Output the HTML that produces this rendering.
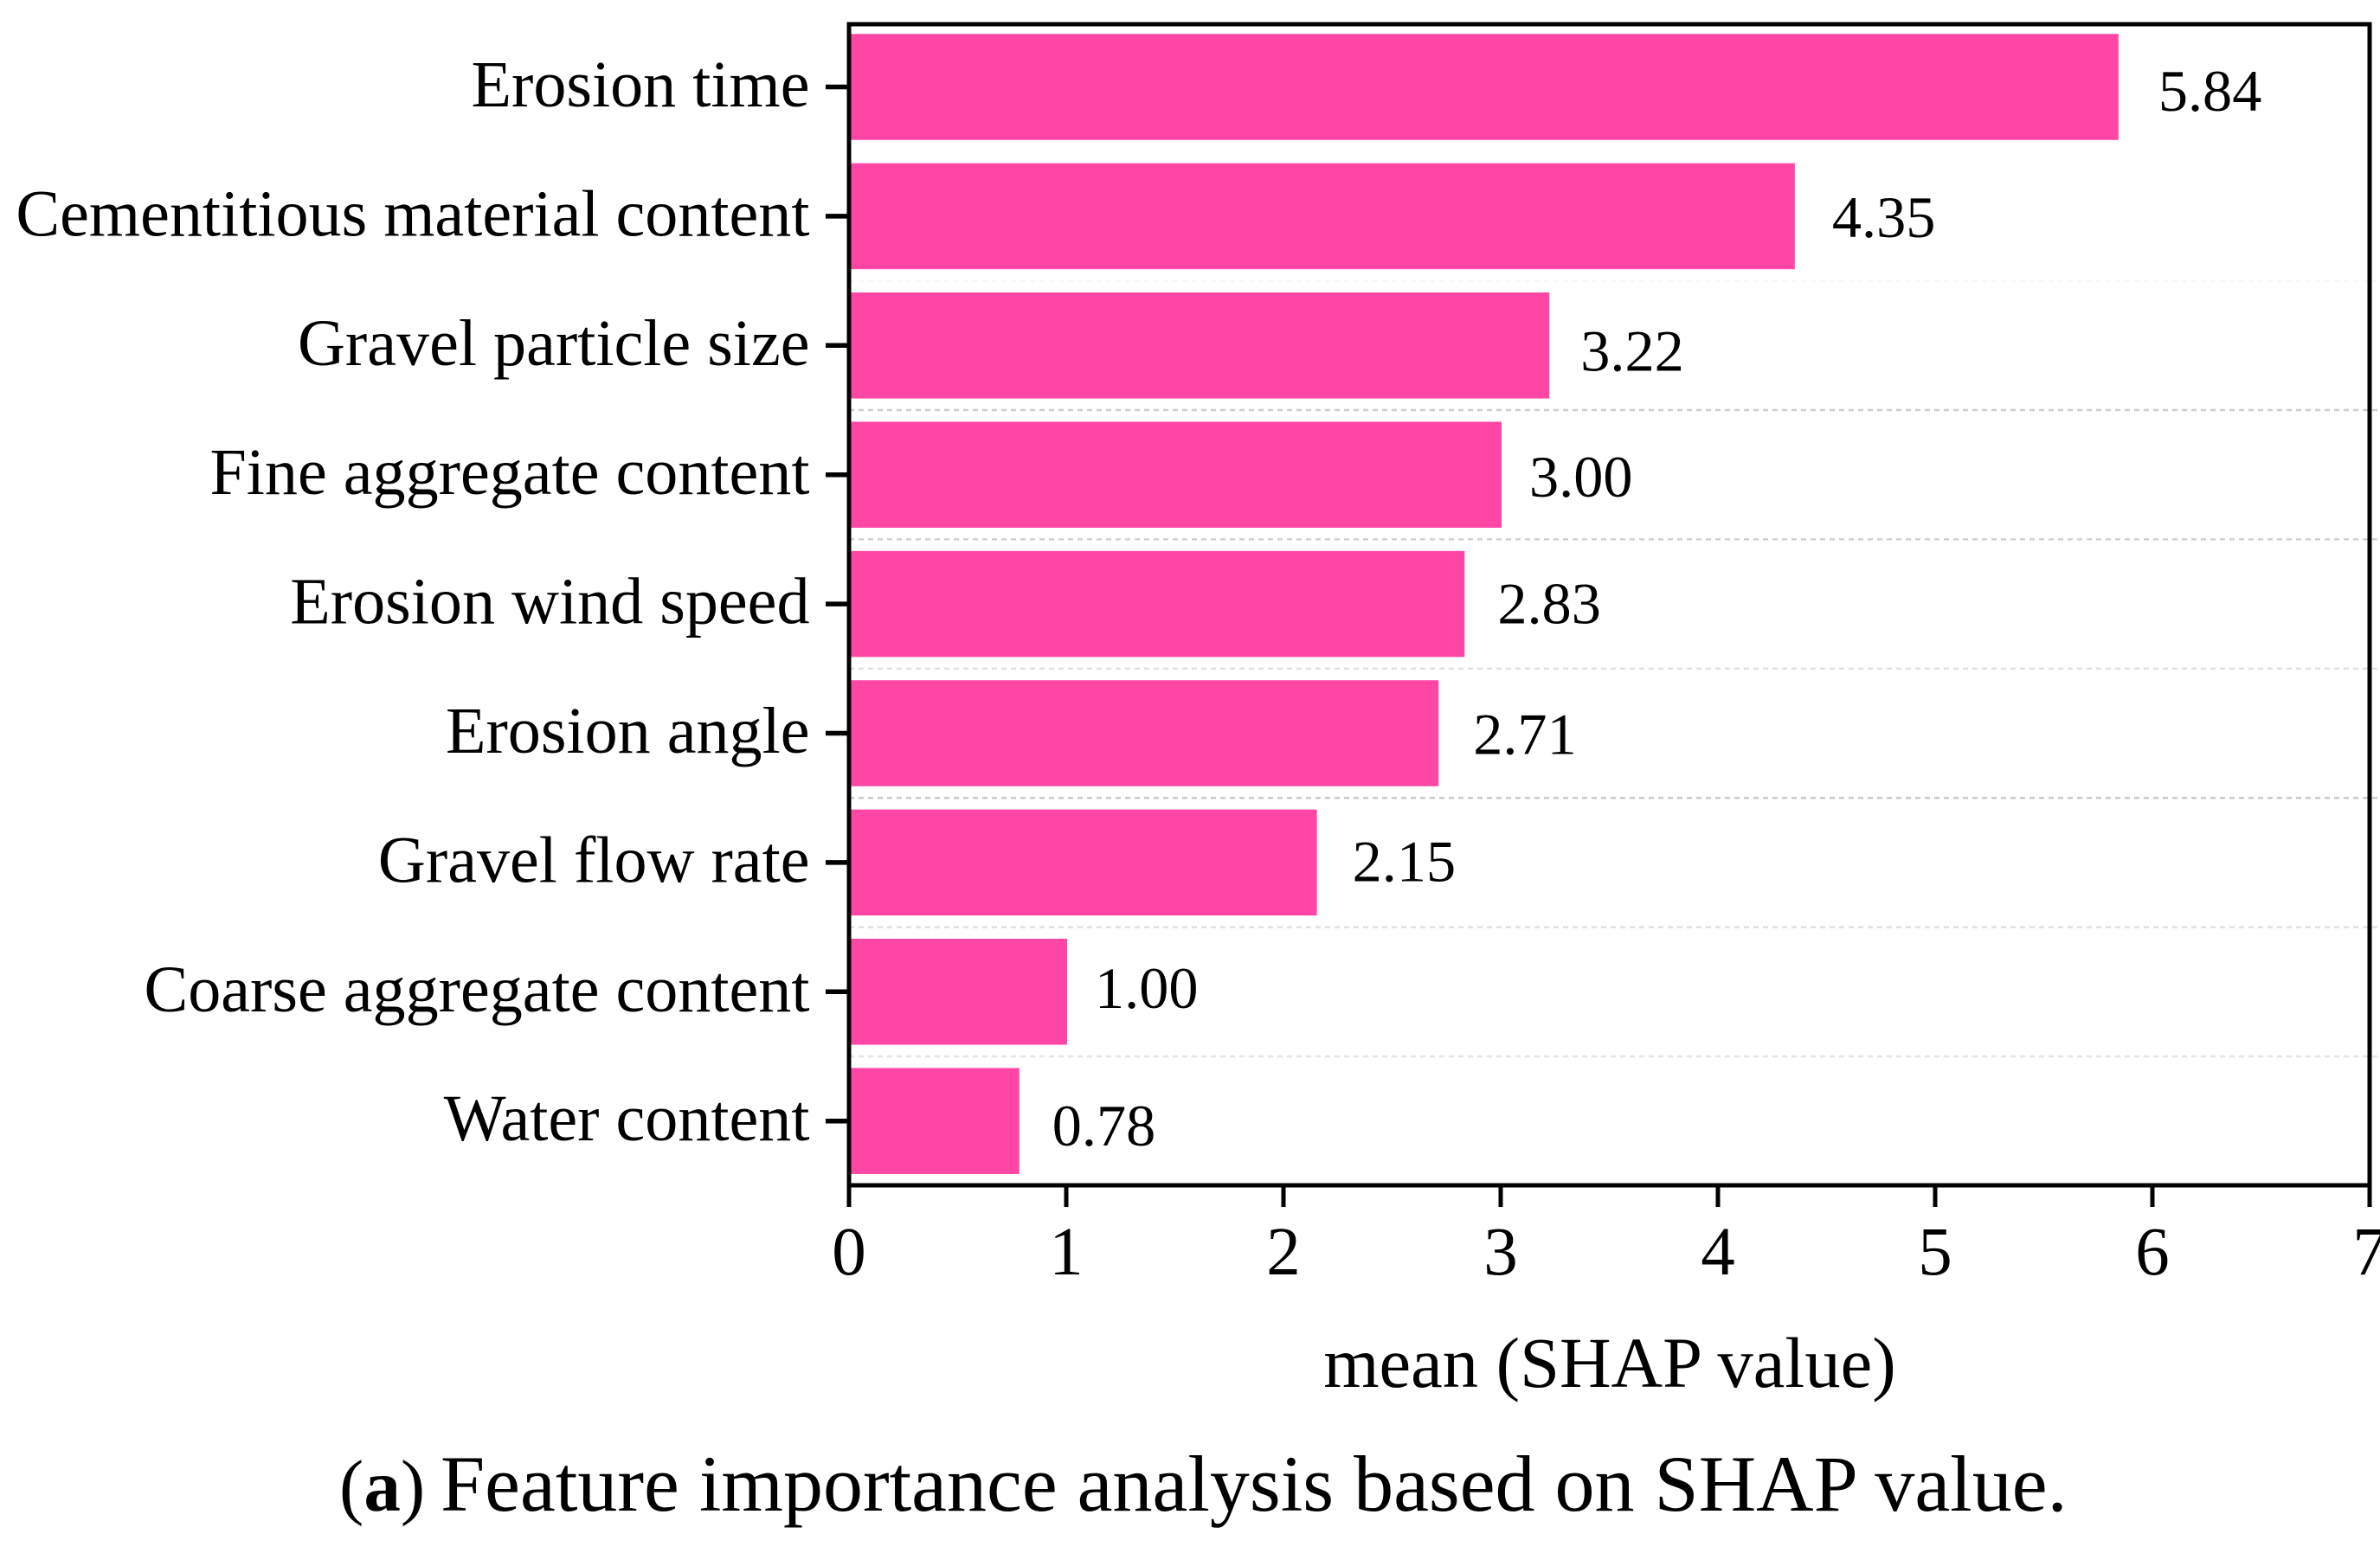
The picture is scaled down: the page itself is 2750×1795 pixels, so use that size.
<!DOCTYPE html>
<html lang="en">
<head>
<meta charset="utf-8">
<title>Feature importance analysis based on SHAP value</title>
<style>
  html, body { margin: 0; padding: 0; background: #ffffff; }
  body { width: 2750px; height: 1795px; overflow: hidden; }
  svg { display: block; }
  text { font-family: "Liberation Serif", "Times New Roman", serif; fill: #000000; }
</style>
</head>
<body>
<svg id="chart" xmlns="http://www.w3.org/2000/svg" width="2750" height="1795" viewBox="0 0 2750 1795">
  <rect x="0" y="0" width="2750" height="1795" fill="#ffffff"></rect>
  <g id="grid"></g>
  <g id="bars"></g>
  <g id="values"></g>
  <g id="yaxis"></g>
  <g id="xaxis"></g>
  <rect x="981" y="28" width="1757" height="1342" fill="none" stroke="#000000" stroke-width="5"></rect>
  <text x="1860" y="1603" text-anchor="middle" font-size="82.5">mean (SHAP value)</text>
  <text x="392" y="1746" font-size="92"><tspan font-size="85">(<tspan font-weight="bold">a</tspan>)</tspan><tspan x="509">Feature importance analysis based on SHAP value.</tspan></text>
</svg>
<script>
const categories = ["Erosion time", "Cementitious material content", "Gravel particle size", "Fine aggregate content", "Erosion wind speed", "Erosion angle", "Gravel flow rate", "Coarse aggregate content", "Water content"];
const shapValues = [5.84, 4.35, 3.22, 3.00, 2.83, 2.71, 2.15, 1.00, 0.78];
const valueLabels = ["5.84", "4.35", "3.22", "3.00", "2.83", "2.71", "2.15", "1.00", "0.78"];
const xTickValues = [0, 1, 2, 3, 4, 5, 6, 7];

const NS = "http://www.w3.org/2000/svg";
const xScale = function (v) { return 981 + v * (2738 - 981) / 7; };
const bandCenter = function (i) { return 100.5 + i * 149.4; };
const BAR_HEIGHT = 122.5;

function make(tag, parent) {
  const node = document.createElementNS(NS, tag);
  parent.appendChild(node);
  return node;
}
function set(node, props) {
  Object.keys(props).forEach(function (k) { node.setAttribute(k, props[k]); });
}

function drawGrid() {
  const parent = document.getElementById("grid");
  const strength = [0, 0.12, 0.9, 0.85, 0.55, 0.95, 0.55, 0.45];
  for (let i = 1; i < categories.length - 1; i++) {
    const el = make("line", parent);
    
    
    const y = bandCenter(i) + 74.7;
    set(el, { x1: xScale(0), x2: 2750, y1: y, y2: y, stroke: "#c8c8c8", "stroke-width": 2.5, "stroke-dasharray": "6 5", opacity: strength[i] });
  }
}

function drawBars() {
  const parent = document.getElementById("bars");
  shapValues.forEach(function (v, i) {
    const el = make("rect", parent);
    
    
    set(el, { x: xScale(0), y: bandCenter(i) - BAR_HEIGHT / 2, width: xScale(v) - xScale(0) + 1, height: BAR_HEIGHT, fill: "#ff46a5" });
  });
}

function drawValueLabels() {
  const parent = document.getElementById("values");
  const gap = [47, 44, 37, 33, 39, 41, 42, 33, 39];
  const lift = [5.5, 2, 7, 3, 0, 2, -0.5, -3.5, 6];
  valueLabels.forEach(function (label, i) {
    const el = make("text", parent);
    
    
    set(el, { x: xScale(shapValues[i]) + gap[i], y: bandCenter(i) + 22.2 + lift[i], "font-size": 68.3 });
    el.textContent = label;
  });
}

function drawYAxis() {
  const parent = document.getElementById("yaxis");
  categories.forEach(function (name, i) {
    const tick = make("line", parent);
    
    
    const y = bandCenter(i);
    set(tick, { x1: 954, x2: xScale(0), y1: y, y2: y, stroke: "#000000", "stroke-width": 5.5 });
    const label = make("text", parent);
    
    
    set(label, { x: 935.5, y: y + 22.5, "text-anchor": "end", "font-size": 76.1 });
    label.textContent = name;
  });
}

function drawXAxis() {
  const parent = document.getElementById("xaxis");
  xTickValues.forEach(function (t) {
    const x = xScale(t);
    const tick = make("line", parent);
    
    
    set(tick, { x1: x, x2: x, y1: 1370, y2: 1395, stroke: "#000000", "stroke-width": 5 });
    const label = make("text", parent);
    
    
    set(label, { x: x, y: 1473, "text-anchor": "middle", "font-size": 79 });
    label.textContent = String(t);
  });
}

drawGrid();
drawBars();
drawValueLabels();
drawYAxis();
drawXAxis();
</script>
</body>
</html>
